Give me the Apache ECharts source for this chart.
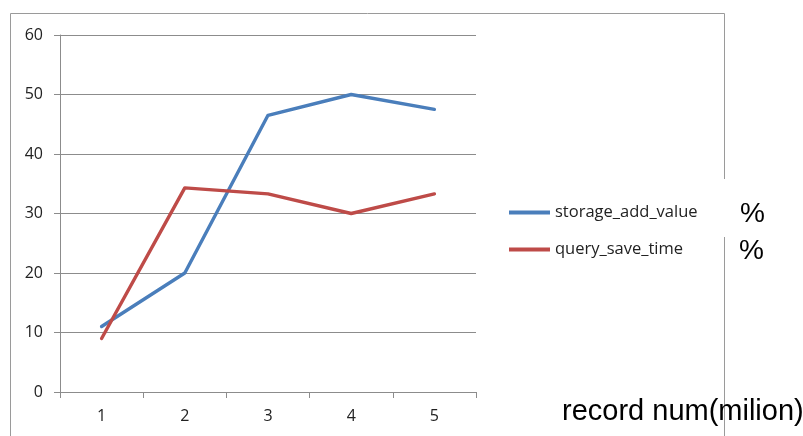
<!DOCTYPE html>
<html>
<head>
<meta charset="utf-8">
<script src="https://cdn.jsdelivr.net/npm/echarts@6/dist/echarts.min.js"></script>
<style>
  html, body { margin: 0; padding: 0; background: #fff; }
  #chart { width: 803px; height: 436px; }
</style>
</head>
<body>
<div id="chart"></div>
<script>
// Record counts (millions) on the x axis
const categories = ['1', '2', '3', '4', '5'];
// Percentages for each measured quantity
const storageAddValue = [11, 20, 46.5, 50, 47.5];
const querySaveTime = [9, 34.3, 33.3, 30, 33.3];
const seriesNames = ['storage_add_value', 'query_save_time'];
const yTicks = { min: 0, max: 60, step: 10 };

const labelFont = '"Open Sans", "DejaVu Sans", sans-serif';
const gridGray = '#8c8c8c';
const frameGray = '#9a9a9a';

const chart = echarts.init(document.getElementById('chart'), null, { renderer: 'canvas' });

chart.setOption({
  animation: false,
  backgroundColor: '#ffffff',
  grid: { left: 60, right: 327, top: 35, bottom: 44, containLabel: false },
  legend: [
    {
      data: [seriesNames[0]], left: 504, top: 199, orient: 'vertical',
      icon: 'rect', itemWidth: 41, itemHeight: 4, itemGap: 6,
      textStyle: { fontFamily: labelFont, fontSize: 16.5, color: '#222' }
    },
    {
      data: [seriesNames[1]], left: 504, top: 236, orient: 'vertical',
      icon: 'rect', itemWidth: 41, itemHeight: 4, itemGap: 6,
      textStyle: { fontFamily: labelFont, fontSize: 16.5, color: '#222' }
    }
  ],
  xAxis: {
    type: 'category',
    data: categories,
    boundaryGap: true,
    axisLine: { show: true, lineStyle: { color: gridGray, width: 1 } },
    axisTick: { show: true, length: 6, interval: 0, lineStyle: { color: gridGray } },
    axisLabel: { margin: 16, fontFamily: labelFont, fontSize: 16, color: '#222' },
    splitLine: { show: false }
  },
  yAxis: {
    type: 'value',
    min: yTicks.min,
    max: yTicks.max,
    interval: yTicks.step,
    axisLine: { show: true, lineStyle: { color: gridGray, width: 1 } },
    axisTick: { show: true, length: 6, lineStyle: { color: gridGray } },
    axisLabel: { margin: 17, fontFamily: labelFont, fontSize: 16, color: '#222' },
    splitLine: { show: true, lineStyle: { color: gridGray, width: 1 } }
  },
  series: [
    {
      name: seriesNames[0], type: 'line', data: storageAddValue,
      symbol: 'none', smooth: false,
      lineStyle: { color: '#4a7ebb', width: 3.4, cap: 'round', join: 'round' },
      itemStyle: { color: '#4a7ebb' }
    },
    {
      name: seriesNames[1], type: 'line', data: querySaveTime,
      symbol: 'none', smooth: false,
      lineStyle: { color: '#be4b48', width: 3.4, cap: 'round', join: 'round' },
      itemStyle: { color: '#be4b48' }
    }
  ],
  graphic: [
    // chart frame
    { type: 'line', shape: { x1: 10.5, y1: 13.5, x2: 724.5, y2: 13.5 }, style: { stroke: frameGray, lineWidth: 1 } },
    { type: 'line', shape: { x1: 10.5, y1: 13.5, x2: 10.5, y2: 436 }, style: { stroke: frameGray, lineWidth: 1 } },
    { type: 'line', shape: { x1: 724.5, y1: 13.5, x2: 724.5, y2: 179 }, style: { stroke: frameGray, lineWidth: 1 } },
    { type: 'line', shape: { x1: 724.5, y1: 237, x2: 724.5, y2: 436 }, style: { stroke: frameGray, lineWidth: 1 } },
    // unit marks next to the legend
    { type: 'text', left: 740, top: 200, style: { text: '%', font: '28px "Liberation Sans", Arial, sans-serif', fill: '#000' } },
    { type: 'text', left: 739, top: 237, style: { text: '%', font: '28px "Liberation Sans", Arial, sans-serif', fill: '#000' } },
    // axis title
    { type: 'text', left: 562, top: 397, style: { text: 'record num(milion)', font: '29px "Liberation Sans", Arial, sans-serif', fill: '#000' } }
  ]
});
</script>
</body>
</html>
